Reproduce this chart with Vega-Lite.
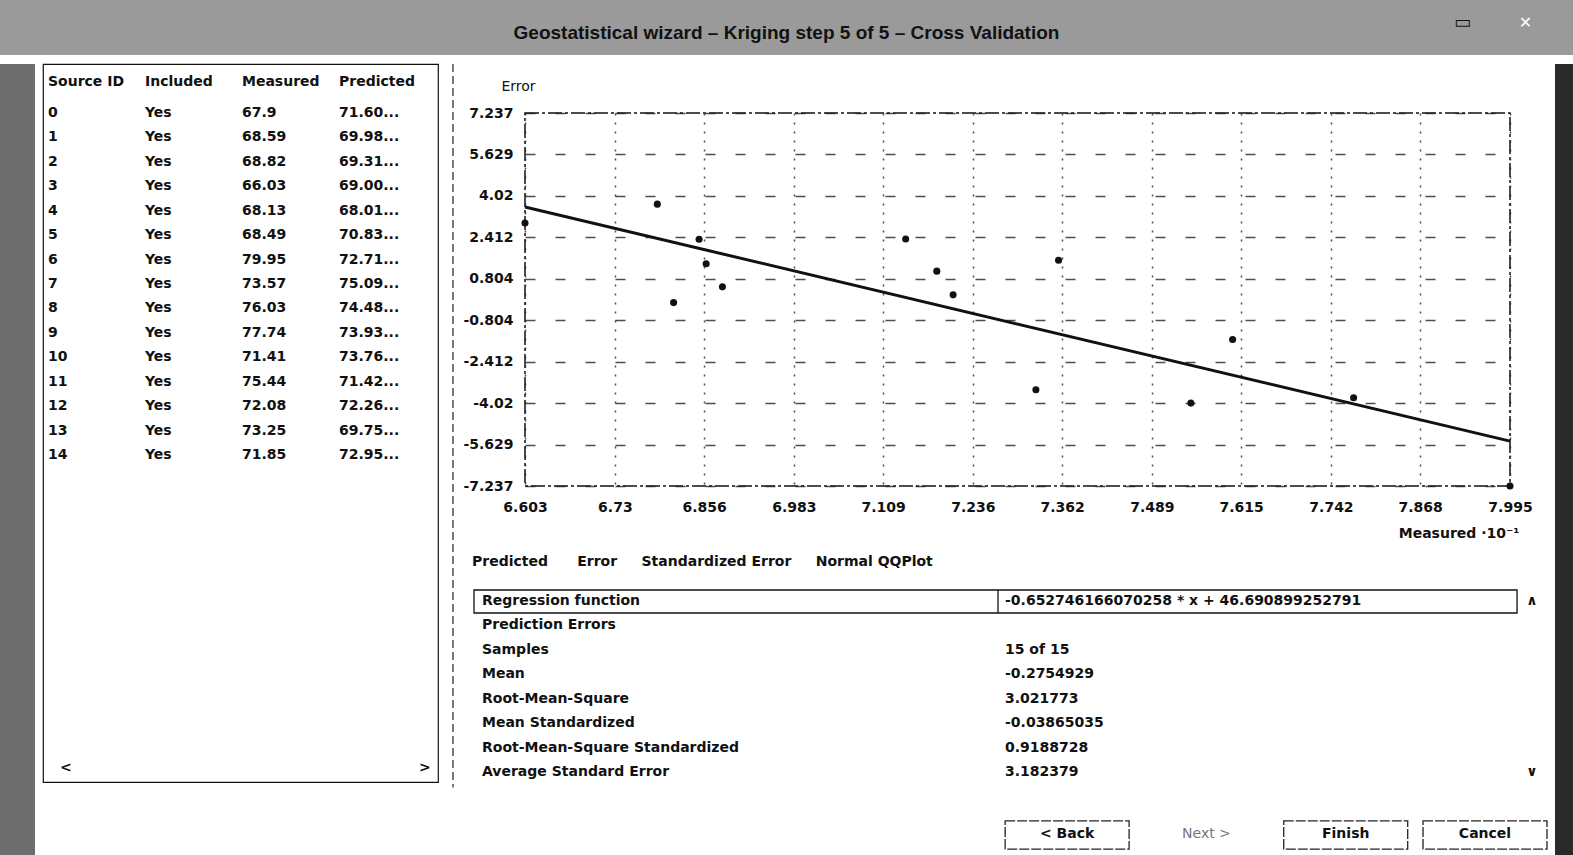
{
  "$schema": "https://vega.github.io/schema/vega-lite/v6.json",
  "background": "white",
  "padding": 0,
  "spacing": 4,
  "config": {
    "font": "DejaVu Sans",
    "view": {"stroke": null},
    "text": {"font": "DejaVu Sans", "fontWeight": "bold", "fontSize": 14, "fill": "#111"}
  },
  "datasets": {
    "samples": [
      {"id": 0, "included": "Yes", "measured": "67.9", "predicted": "71.60...", "x": 6.79, "error": 3.7},
      {"id": 1, "included": "Yes", "measured": "68.59", "predicted": "69.98...", "x": 6.859, "error": 1.39},
      {"id": 2, "included": "Yes", "measured": "68.82", "predicted": "69.31...", "x": 6.882, "error": 0.49},
      {"id": 3, "included": "Yes", "measured": "66.03", "predicted": "69.00...", "x": 6.603, "error": 2.97},
      {"id": 4, "included": "Yes", "measured": "68.13", "predicted": "68.01...", "x": 6.813, "error": -0.12},
      {"id": 5, "included": "Yes", "measured": "68.49", "predicted": "70.83...", "x": 6.849, "error": 2.34},
      {"id": 6, "included": "Yes", "measured": "79.95", "predicted": "72.71...", "x": 7.995, "error": -7.237},
      {"id": 7, "included": "Yes", "measured": "73.57", "predicted": "75.09...", "x": 7.357, "error": 1.52},
      {"id": 8, "included": "Yes", "measured": "76.03", "predicted": "74.48...", "x": 7.603, "error": -1.55},
      {"id": 9, "included": "Yes", "measured": "77.74", "predicted": "73.93...", "x": 7.774, "error": -3.81},
      {"id": 10, "included": "Yes", "measured": "71.41", "predicted": "73.76...", "x": 7.141, "error": 2.35},
      {"id": 11, "included": "Yes", "measured": "75.44", "predicted": "71.42...", "x": 7.544, "error": -4.02},
      {"id": 12, "included": "Yes", "measured": "72.08", "predicted": "72.26...", "x": 7.208, "error": 0.18},
      {"id": 13, "included": "Yes", "measured": "73.25", "predicted": "69.75...", "x": 7.325, "error": -3.5},
      {"id": 14, "included": "Yes", "measured": "71.85", "predicted": "72.95...", "x": 7.185, "error": 1.1}
    ],
    "regression": [
      {"x": 6.603, "error": 3.59},
      {"x": 7.995, "error": -5.496}
    ],
    "stats": [
      {"row": 0, "label": "Regression function", "value": "-0.652746166070258 * x + 46.690899252791"},
      {"row": 1, "label": "Prediction Errors", "value": ""},
      {"row": 2, "label": "Samples", "value": "15 of 15"},
      {"row": 3, "label": "Mean", "value": "-0.2754929"},
      {"row": 4, "label": "Root-Mean-Square", "value": "3.021773"},
      {"row": 5, "label": "Mean Standardized", "value": "-0.03865035"},
      {"row": 6, "label": "Root-Mean-Square Standardized", "value": "0.9188728"},
      {"row": 7, "label": "Average Standard Error", "value": "3.182379"}
    ],
    "cols": [
      {"col": "Source ID"}, {"col": "Included"}, {"col": "Measured"}, {"col": "Predicted"}
    ]
  },
  "vconcat": [
    {
      "width": 1573,
      "height": 55,
      "view": {"fill": "#9a9a9a", "stroke": null},
      "data": {"values": [{"t": "Geostatistical wizard – Kriging step 5 of 5 – Cross Validation", "min": "▭", "close": "✕"}]},
      "layer": [
        {
          "mark": {"type": "text", "font": "Liberation Sans", "fontSize": 19, "fontWeight": "bold", "fill": "#111", "dy": 5},
          "encoding": {"text": {"field": "t"}}
        },
        {
          "mark": {"type": "text", "fontSize": 18, "fontWeight": "bold", "fill": "#111", "dx": 676, "dy": -5},
          "encoding": {"text": {"field": "min"}}
        },
        {
          "mark": {"type": "text", "fontSize": 16, "fontWeight": "bold", "fill": "white", "dx": 739, "dy": -5},
          "encoding": {"text": {"field": "close"}}
        }
      ]
    },
    {
      "spacing": 7,
      "hconcat": [
        {
          "width": 35,
          "height": 793,
          "view": {"fill": "#6e6e6e", "stroke": null},
          "data": {"values": [{"t": ""}]},
          "mark": {"type": "text"},
          "encoding": {"text": {"field": "t"}}
        },
        {
          "width": 395,
          "height": 718,
          "view": {"stroke": "#111", "strokeWidth": 1.2},
          "data": {"name": "samples"},
          "layer": [
            {
              "data": {"name": "cols"},
              "mark": {"type": "text", "align": "left", "baseline": "middle"},
              "encoding": {
                "x": {"field": "col", "type": "nominal", "bandPosition": 0, "scale": {"type": "band", "domain": ["Source ID", "Included", "Measured", "Predicted"], "paddingInner": 0, "paddingOuter": 0.036, "align": 0.71}, "axis": null},
                "y": {"datum": -1.27, "type": "quantitative", "scale": {"domain": [-2.0, 27.38], "reverse": true, "nice": false, "zero": false}, "axis": null},
                "text": {"field": "col"}
              }
            },
            {
              "mark": {"type": "text", "align": "left", "baseline": "middle"},
              "encoding": {
                "x": {"datum": "Source ID", "type": "nominal", "bandPosition": 0},
                "y": {"field": "id", "type": "quantitative"},
                "text": {"field": "id"}
              }
            },
            {
              "mark": {"type": "text", "align": "left", "baseline": "middle"},
              "encoding": {
                "x": {"datum": "Included", "type": "nominal", "bandPosition": 0},
                "y": {"field": "id", "type": "quantitative"},
                "text": {"field": "included"}
              }
            },
            {
              "mark": {"type": "text", "align": "left", "baseline": "middle"},
              "encoding": {
                "x": {"datum": "Measured", "type": "nominal", "bandPosition": 0},
                "y": {"field": "id", "type": "quantitative"},
                "text": {"field": "measured"}
              }
            },
            {
              "mark": {"type": "text", "align": "left", "baseline": "middle"},
              "encoding": {
                "x": {"datum": "Predicted", "type": "nominal", "bandPosition": 0},
                "y": {"field": "id", "type": "quantitative"},
                "text": {"field": "predicted"}
              }
            },
            {
              "data": {"values": [{"a": "<"}]},
              "mark": {"type": "text", "align": "left", "baseline": "middle", "dx": 12},
              "encoding": {
                "x": {"datum": "Source ID", "type": "nominal", "bandPosition": 0},
                "y": {"datum": 26.8, "type": "quantitative"},
                "text": {"field": "a"}
              }
            },
            {
              "data": {"values": [{"a": ">"}]},
              "mark": {"type": "text", "align": "left", "baseline": "middle", "dx": 80},
              "encoding": {
                "x": {"datum": "Predicted", "type": "nominal", "bandPosition": 0},
                "y": {"datum": 26.8, "type": "quantitative"},
                "text": {"field": "a"}
              }
            },
            {
              "data": {"values": [{"d": "divider"}]},
              "mark": {"type": "rule", "stroke": "#222", "strokeWidth": 1.2, "strokeDash": [8, 4], "xOffset": 17},
              "encoding": {
                "x": {"datum": "Predicted", "type": "nominal", "bandPosition": 1},
                "y": {"datum": -2.0, "type": "quantitative"},
                "y2": {"datum": 27.6}
              }
            }
          ]
        },
        {
          "spacing": 5,
          "vconcat": [
            {
              "width": 10,
              "height": 4,
              "data": {"values": [{"t": ""}]},
              "mark": {"type": "text"},
              "encoding": {"text": {"field": "t"}}
            },
            {
              "width": 985,
              "height": 373,
              "view": {"stroke": "#111", "strokeWidth": 1.5, "strokeDash": [14, 3, 3, 3]},
              "layer": [
                {
                  "data": {"name": "regression"},
                  "mark": {"type": "line", "color": "#111", "strokeWidth": 3},
                  "encoding": {
                    "x": {
                      "field": "x", "type": "quantitative",
                      "scale": {"domain": [6.603, 7.995], "nice": false, "zero": false},
                      "axis": {
                        "title": "Measured ·10⁻¹",
                        "values": [6.603, 6.73, 6.856, 6.983, 7.109, 7.236, 7.362, 7.489, 7.615, 7.742, 7.868, 7.995],
                        "labelExpr": "replace(format(datum.value, '.4~r'), '\u2212', '-')",
                        "grid": true, "gridDash": [2, 7], "gridColor": "#222", "gridWidth": 1.5, "gridOpacity": 0.8,
                        "domain": false, "ticks": false, "tickSize": 0,
                        "labelFont": "DejaVu Sans", "labelFontSize": 14, "labelFontWeight": "bold", "labelColor": "#111",
                        "labelPadding": 14, "labelFlush": false, "labelOverlap": false,
                        "titleFont": "DejaVu Sans", "titleFontSize": 14, "titleFontWeight": "bold", "titleColor": "#111",
                        "titleAlign": "right", "titleBaseline": "middle", "titleX": 994, "titleY": 47
                      }
                    },
                    "y": {
                      "field": "error", "type": "quantitative",
                      "scale": {"domain": [-7.237, 7.237], "nice": false, "zero": false},
                      "axis": {
                        "title": "Error",
                        "values": [7.237, 5.629, 4.02, 2.412, 0.804, -0.804, -2.412, -4.02, -5.629, -7.237],
                        "labelExpr": "replace(format(datum.value, '.4~r'), '\u2212', '-')",
                        "grid": true, "gridDash": [10, 20], "gridColor": "#222", "gridWidth": 1.5, "gridOpacity": 0.8,
                        "domain": false, "ticks": false, "tickSize": 0,
                        "labelFont": "DejaVu Sans", "labelFontSize": 14, "labelFontWeight": "bold", "labelColor": "#111",
                        "labelPadding": 12, "labelOverlap": false,
                        "titleFont": "DejaVu Sans", "titleFontSize": 14, "titleFontWeight": "normal", "titleColor": "#111",
                        "titleAngle": 0, "titleAlign": "left", "titleBaseline": "middle", "titleX": -24, "titleY": -27
                      }
                    }
                  }
                },
                {
                  "data": {"name": "samples"},
                  "mark": {"type": "point", "filled": true, "size": 50, "color": "#111", "opacity": 1},
                  "encoding": {
                    "x": {"field": "x", "type": "quantitative"},
                    "y": {"field": "error", "type": "quantitative"}
                  }
                }
              ]
            },
            {
              "width": 1022,
              "height": 301,
              "resolve": {"scale": {"x": "independent"}},
              "layer": [
                {
                  "data": {"values": [{"t": "Predicted\u00a0\u00a0\u00a0\u00a0\u00a0\u00a0Error\u00a0\u00a0\u00a0\u00a0\u00a0Standardized Error\u00a0\u00a0\u00a0\u00a0\u00a0Normal QQPlot"}]},
                  "mark": {"type": "text", "align": "left", "baseline": "middle", "dx": -53},
                  "encoding": {
                    "x": {"field": "t", "type": "nominal", "bandPosition": 0, "scale": {"type": "band", "paddingInner": 0, "paddingOuter": 0}, "axis": null},
                    "y": {"datum": -1.59, "type": "quantitative", "scale": {"domain": [-2.243, 10.057], "reverse": true, "nice": false, "zero": false}, "axis": null},
                    "text": {"field": "t"}
                  }
                },
                {
                  "layer": [
                    {
                      "data": {"values": [{"c": "box"}]},
                      "mark": {"type": "rect", "fill": "transparent", "stroke": "#111", "strokeWidth": 1.3, "xOffset": -51, "x2Offset": 46},
                      "encoding": {
                        "x": {"datum": "label", "type": "nominal", "bandPosition": 0, "scale": {"type": "band", "domain": ["label", "value"], "paddingInner": 0, "paddingOuter": 0.0803, "align": 0}, "axis": null},
                        "x2": {"datum": "value", "bandPosition": 1},
                        "y": {"datum": -0.445, "type": "quantitative", "scale": {"domain": [-2.243, 10.057], "reverse": true, "nice": false, "zero": false}, "axis": null},
                        "y2": {"datum": 0.495}
                      }
                    },
                    {
                      "data": {"values": [{"c": "divider"}]},
                      "mark": {"type": "rule", "stroke": "#111", "strokeWidth": 1.3},
                      "encoding": {
                        "x": {"datum": "value", "type": "nominal", "bandPosition": 0},
                        "y": {"datum": -0.445, "type": "quantitative"},
                        "y2": {"datum": 0.495}
                      }
                    },
                    {
                      "data": {"name": "stats"},
                      "mark": {"type": "text", "align": "left", "baseline": "middle", "dx": -43},
                      "encoding": {
                        "x": {"datum": "label", "type": "nominal", "bandPosition": 0},
                        "y": {"field": "row", "type": "quantitative"},
                        "text": {"field": "label"}
                      }
                    },
                    {
                      "data": {"name": "stats"},
                      "mark": {"type": "text", "align": "left", "baseline": "middle", "dx": 7},
                      "encoding": {
                        "x": {"datum": "value", "type": "nominal", "bandPosition": 0},
                        "y": {"field": "row", "type": "quantitative"},
                        "text": {"field": "value"}
                      }
                    },
                    {
                      "data": {"values": [{"row": 0, "a": "∧"}, {"row": 7, "a": "∨"}]},
                      "mark": {"type": "text", "align": "center", "baseline": "middle", "dx": 534},
                      "encoding": {
                        "x": {"datum": "value", "type": "nominal", "bandPosition": 0},
                        "y": {"field": "row", "type": "quantitative"},
                        "text": {"field": "a"}
                      }
                    }
                  ]
                },
                {
                  "layer": [
                    {
                      "data": {"values": [{"b": "< Back"}, {"b": "Finish"}, {"b": "Cancel"}]},
                      "mark": {"type": "rect", "fill": "transparent", "stroke": "#222", "strokeWidth": 1.3, "strokeDash": [10, 2]},
                      "encoding": {
                        "x": {"field": "b", "type": "nominal", "scale": {"type": "band", "domain": ["spacer1", "spacer2", "spacer3", "< Back", "Next >", "Finish", "Cancel"], "paddingInner": 0.11, "paddingOuter": 0.2235, "align": 1}, "axis": null},
                        "y": {"datum": 8.99, "type": "quantitative", "scale": {"domain": [-2.243, 10.057], "reverse": true, "nice": false, "zero": false}, "axis": null},
                        "y2": {"datum": 10.14}
                      }
                    },
                    {
                      "data": {"values": [{"b": "< Back"}, {"b": "Finish"}, {"b": "Cancel"}]},
                      "mark": {"type": "text", "align": "center", "baseline": "middle"},
                      "encoding": {
                        "x": {"field": "b", "type": "nominal"},
                        "y": {"datum": 9.53, "type": "quantitative"},
                        "text": {"field": "b"}
                      }
                    },
                    {
                      "data": {"values": [{"b": "Next >"}]},
                      "mark": {"type": "text", "align": "center", "baseline": "middle", "fill": "#777", "fontWeight": "normal"},
                      "encoding": {
                        "x": {"field": "b", "type": "nominal"},
                        "y": {"datum": 9.53, "type": "quantitative"},
                        "text": {"field": "b"}
                      }
                    }
                  ]
                }
              ]
            }
          ]
        },
        {
          "width": 21,
          "height": 793,
          "view": {"fill": "#2a2a2a", "stroke": null},
          "data": {"values": [{"t": ""}]},
          "mark": {"type": "text"},
          "encoding": {"text": {"field": "t"}}
        }
      ]
    }
  ]
}
